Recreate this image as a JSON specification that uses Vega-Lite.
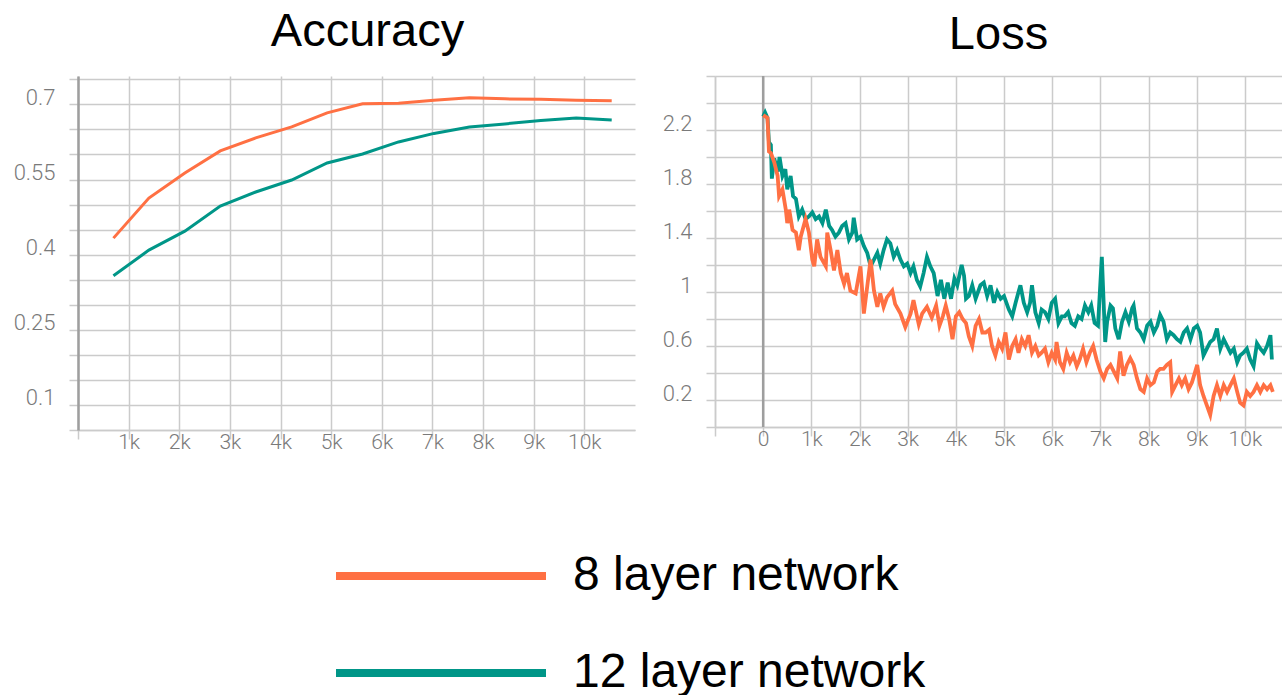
{
  "$schema": "https://vega.github.io/schema/vega-lite/v6.json",
  "background": "white",
  "padding": {"left": 13, "top": 8, "right": 0, "bottom": 0},
  "autosize": {"type": "pad"},
  "spacing": 80,
  "bounds": "flush",
  "datasets": {
    "acc": [
      {"step": 700, "series": "8 layer network", "acc": 0.433},
      {"step": 1400, "series": "8 layer network", "acc": 0.513},
      {"step": 2110, "series": "8 layer network", "acc": 0.563},
      {"step": 2810, "series": "8 layer network", "acc": 0.607},
      {"step": 3510, "series": "8 layer network", "acc": 0.633},
      {"step": 4220, "series": "8 layer network", "acc": 0.655},
      {"step": 4920, "series": "8 layer network", "acc": 0.683},
      {"step": 5620, "series": "8 layer network", "acc": 0.701},
      {"step": 6330, "series": "8 layer network", "acc": 0.702},
      {"step": 7030, "series": "8 layer network", "acc": 0.708},
      {"step": 7730, "series": "8 layer network", "acc": 0.713},
      {"step": 8430, "series": "8 layer network", "acc": 0.711},
      {"step": 9140, "series": "8 layer network", "acc": 0.710},
      {"step": 9840, "series": "8 layer network", "acc": 0.708},
      {"step": 10540, "series": "8 layer network", "acc": 0.707},
      {"step": 700, "series": "12 layer network", "acc": 0.358},
      {"step": 1400, "series": "12 layer network", "acc": 0.409},
      {"step": 2110, "series": "12 layer network", "acc": 0.447},
      {"step": 2810, "series": "12 layer network", "acc": 0.497},
      {"step": 3510, "series": "12 layer network", "acc": 0.525},
      {"step": 4220, "series": "12 layer network", "acc": 0.549},
      {"step": 4920, "series": "12 layer network", "acc": 0.583},
      {"step": 5620, "series": "12 layer network", "acc": 0.601},
      {"step": 6330, "series": "12 layer network", "acc": 0.625},
      {"step": 7030, "series": "12 layer network", "acc": 0.642},
      {"step": 7730, "series": "12 layer network", "acc": 0.655},
      {"step": 8430, "series": "12 layer network", "acc": 0.661},
      {"step": 9140, "series": "12 layer network", "acc": 0.668},
      {"step": 9840, "series": "12 layer network", "acc": 0.673},
      {"step": 10540, "series": "12 layer network", "acc": 0.669}
    ],
    "loss": [
      {"step": 0, "series": "12 layer network", "loss": 2.30},
      {"step": 40, "series": "12 layer network", "loss": 2.33},
      {"step": 90, "series": "12 layer network", "loss": 2.29},
      {"step": 120, "series": "12 layer network", "loss": 2.11},
      {"step": 160, "series": "12 layer network", "loss": 2.09},
      {"step": 180, "series": "12 layer network", "loss": 1.84},
      {"step": 230, "series": "12 layer network", "loss": 1.99},
      {"step": 300, "series": "12 layer network", "loss": 1.89},
      {"step": 340, "series": "12 layer network", "loss": 2.00},
      {"step": 400, "series": "12 layer network", "loss": 1.86},
      {"step": 460, "series": "12 layer network", "loss": 1.91},
      {"step": 500, "series": "12 layer network", "loss": 1.76},
      {"step": 570, "series": "12 layer network", "loss": 1.86},
      {"step": 620, "series": "12 layer network", "loss": 1.71},
      {"step": 680, "series": "12 layer network", "loss": 1.69},
      {"step": 740, "series": "12 layer network", "loss": 1.56},
      {"step": 810, "series": "12 layer network", "loss": 1.61},
      {"step": 880, "series": "12 layer network", "loss": 1.54},
      {"step": 950, "series": "12 layer network", "loss": 1.56},
      {"step": 1020, "series": "12 layer network", "loss": 1.59},
      {"step": 1090, "series": "12 layer network", "loss": 1.54},
      {"step": 1160, "series": "12 layer network", "loss": 1.56},
      {"step": 1230, "series": "12 layer network", "loss": 1.51},
      {"step": 1300, "series": "12 layer network", "loss": 1.61},
      {"step": 1370, "series": "12 layer network", "loss": 1.49},
      {"step": 1430, "series": "12 layer network", "loss": 1.46},
      {"step": 1500, "series": "12 layer network", "loss": 1.41},
      {"step": 1570, "series": "12 layer network", "loss": 1.44},
      {"step": 1640, "series": "12 layer network", "loss": 1.49},
      {"step": 1710, "series": "12 layer network", "loss": 1.51},
      {"step": 1780, "series": "12 layer network", "loss": 1.39},
      {"step": 1850, "series": "12 layer network", "loss": 1.44},
      {"step": 1880, "series": "12 layer network", "loss": 1.55},
      {"step": 1950, "series": "12 layer network", "loss": 1.39},
      {"step": 2020, "series": "12 layer network", "loss": 1.41},
      {"step": 2090, "series": "12 layer network", "loss": 1.34},
      {"step": 2160, "series": "12 layer network", "loss": 1.29},
      {"step": 2230, "series": "12 layer network", "loss": 1.19},
      {"step": 2300, "series": "12 layer network", "loss": 1.24},
      {"step": 2370, "series": "12 layer network", "loss": 1.29},
      {"step": 2430, "series": "12 layer network", "loss": 1.21},
      {"step": 2500, "series": "12 layer network", "loss": 1.31},
      {"step": 2570, "series": "12 layer network", "loss": 1.39},
      {"step": 2640, "series": "12 layer network", "loss": 1.36},
      {"step": 2710, "series": "12 layer network", "loss": 1.26},
      {"step": 2780, "series": "12 layer network", "loss": 1.31},
      {"step": 2850, "series": "12 layer network", "loss": 1.24},
      {"step": 2920, "series": "12 layer network", "loss": 1.19},
      {"step": 2990, "series": "12 layer network", "loss": 1.21},
      {"step": 3060, "series": "12 layer network", "loss": 1.14},
      {"step": 3120, "series": "12 layer network", "loss": 1.19},
      {"step": 3190, "series": "12 layer network", "loss": 1.09},
      {"step": 3260, "series": "12 layer network", "loss": 1.04},
      {"step": 3330, "series": "12 layer network", "loss": 1.14},
      {"step": 3400, "series": "12 layer network", "loss": 1.26},
      {"step": 3470, "series": "12 layer network", "loss": 1.19},
      {"step": 3540, "series": "12 layer network", "loss": 1.14},
      {"step": 3620, "series": "12 layer network", "loss": 0.97},
      {"step": 3690, "series": "12 layer network", "loss": 1.09},
      {"step": 3760, "series": "12 layer network", "loss": 0.95},
      {"step": 3830, "series": "12 layer network", "loss": 1.07},
      {"step": 3900, "series": "12 layer network", "loss": 0.95},
      {"step": 3970, "series": "12 layer network", "loss": 1.10},
      {"step": 4030, "series": "12 layer network", "loss": 1.05},
      {"step": 4120, "series": "12 layer network", "loss": 1.20},
      {"step": 4170, "series": "12 layer network", "loss": 1.12},
      {"step": 4210, "series": "12 layer network", "loss": 0.95},
      {"step": 4270, "series": "12 layer network", "loss": 0.97},
      {"step": 4340, "series": "12 layer network", "loss": 1.05},
      {"step": 4410, "series": "12 layer network", "loss": 0.95},
      {"step": 4510, "series": "12 layer network", "loss": 1.05},
      {"step": 4580, "series": "12 layer network", "loss": 1.07},
      {"step": 4650, "series": "12 layer network", "loss": 0.97},
      {"step": 4720, "series": "12 layer network", "loss": 1.05},
      {"step": 4790, "series": "12 layer network", "loss": 0.92},
      {"step": 4860, "series": "12 layer network", "loss": 1.00},
      {"step": 4930, "series": "12 layer network", "loss": 0.95},
      {"step": 5000, "series": "12 layer network", "loss": 0.97},
      {"step": 5100, "series": "12 layer network", "loss": 0.87},
      {"step": 5170, "series": "12 layer network", "loss": 0.82},
      {"step": 5240, "series": "12 layer network", "loss": 0.92},
      {"step": 5300, "series": "12 layer network", "loss": 1.00},
      {"step": 5340, "series": "12 layer network", "loss": 1.05},
      {"step": 5410, "series": "12 layer network", "loss": 0.92},
      {"step": 5480, "series": "12 layer network", "loss": 0.85},
      {"step": 5540, "series": "12 layer network", "loss": 0.92},
      {"step": 5580, "series": "12 layer network", "loss": 1.05},
      {"step": 5650, "series": "12 layer network", "loss": 0.85},
      {"step": 5720, "series": "12 layer network", "loss": 0.77},
      {"step": 5780, "series": "12 layer network", "loss": 0.87},
      {"step": 5850, "series": "12 layer network", "loss": 0.85},
      {"step": 5920, "series": "12 layer network", "loss": 0.80},
      {"step": 5990, "series": "12 layer network", "loss": 0.92},
      {"step": 6060, "series": "12 layer network", "loss": 0.95},
      {"step": 6130, "series": "12 layer network", "loss": 0.77},
      {"step": 6200, "series": "12 layer network", "loss": 0.82},
      {"step": 6260, "series": "12 layer network", "loss": 0.82},
      {"step": 6330, "series": "12 layer network", "loss": 0.85},
      {"step": 6400, "series": "12 layer network", "loss": 0.77},
      {"step": 6470, "series": "12 layer network", "loss": 0.75},
      {"step": 6540, "series": "12 layer network", "loss": 0.82},
      {"step": 6610, "series": "12 layer network", "loss": 0.80},
      {"step": 6680, "series": "12 layer network", "loss": 0.90},
      {"step": 6750, "series": "12 layer network", "loss": 0.85},
      {"step": 6810, "series": "12 layer network", "loss": 0.90},
      {"step": 6880, "series": "12 layer network", "loss": 0.77},
      {"step": 6950, "series": "12 layer network", "loss": 0.75},
      {"step": 7030, "series": "12 layer network", "loss": 1.26},
      {"step": 7100, "series": "12 layer network", "loss": 0.63},
      {"step": 7140, "series": "12 layer network", "loss": 0.78},
      {"step": 7210, "series": "12 layer network", "loss": 0.90},
      {"step": 7260, "series": "12 layer network", "loss": 0.88},
      {"step": 7310, "series": "12 layer network", "loss": 0.73},
      {"step": 7380, "series": "12 layer network", "loss": 0.65},
      {"step": 7450, "series": "12 layer network", "loss": 0.78},
      {"step": 7520, "series": "12 layer network", "loss": 0.85},
      {"step": 7590, "series": "12 layer network", "loss": 0.78},
      {"step": 7660, "series": "12 layer network", "loss": 0.88},
      {"step": 7690, "series": "12 layer network", "loss": 0.90},
      {"step": 7760, "series": "12 layer network", "loss": 0.73},
      {"step": 7830, "series": "12 layer network", "loss": 0.70},
      {"step": 7900, "series": "12 layer network", "loss": 0.65},
      {"step": 7970, "series": "12 layer network", "loss": 0.75},
      {"step": 8040, "series": "12 layer network", "loss": 0.78},
      {"step": 8110, "series": "12 layer network", "loss": 0.70},
      {"step": 8180, "series": "12 layer network", "loss": 0.75},
      {"step": 8240, "series": "12 layer network", "loss": 0.83},
      {"step": 8310, "series": "12 layer network", "loss": 0.78},
      {"step": 8380, "series": "12 layer network", "loss": 0.65},
      {"step": 8450, "series": "12 layer network", "loss": 0.70},
      {"step": 8520, "series": "12 layer network", "loss": 0.68},
      {"step": 8590, "series": "12 layer network", "loss": 0.65},
      {"step": 8660, "series": "12 layer network", "loss": 0.63},
      {"step": 8730, "series": "12 layer network", "loss": 0.70},
      {"step": 8800, "series": "12 layer network", "loss": 0.73},
      {"step": 8870, "series": "12 layer network", "loss": 0.65},
      {"step": 8940, "series": "12 layer network", "loss": 0.73},
      {"step": 9010, "series": "12 layer network", "loss": 0.75},
      {"step": 9070, "series": "12 layer network", "loss": 0.70},
      {"step": 9140, "series": "12 layer network", "loss": 0.53},
      {"step": 9210, "series": "12 layer network", "loss": 0.58},
      {"step": 9280, "series": "12 layer network", "loss": 0.63},
      {"step": 9350, "series": "12 layer network", "loss": 0.65},
      {"step": 9420, "series": "12 layer network", "loss": 0.73},
      {"step": 9490, "series": "12 layer network", "loss": 0.58},
      {"step": 9560, "series": "12 layer network", "loss": 0.65},
      {"step": 9630, "series": "12 layer network", "loss": 0.60},
      {"step": 9700, "series": "12 layer network", "loss": 0.55},
      {"step": 9770, "series": "12 layer network", "loss": 0.58},
      {"step": 9840, "series": "12 layer network", "loss": 0.48},
      {"step": 9900, "series": "12 layer network", "loss": 0.53},
      {"step": 9970, "series": "12 layer network", "loss": 0.55},
      {"step": 10040, "series": "12 layer network", "loss": 0.58},
      {"step": 10110, "series": "12 layer network", "loss": 0.50},
      {"step": 10180, "series": "12 layer network", "loss": 0.45},
      {"step": 10250, "series": "12 layer network", "loss": 0.62},
      {"step": 10320, "series": "12 layer network", "loss": 0.58},
      {"step": 10390, "series": "12 layer network", "loss": 0.55},
      {"step": 10460, "series": "12 layer network", "loss": 0.60},
      {"step": 10530, "series": "12 layer network", "loss": 0.68},
      {"step": 10560, "series": "12 layer network", "loss": 0.50},
      {"step": 0, "series": "8 layer network", "loss": 2.31},
      {"step": 90, "series": "8 layer network", "loss": 2.29},
      {"step": 120, "series": "8 layer network", "loss": 2.04},
      {"step": 160, "series": "8 layer network", "loss": 2.03},
      {"step": 230, "series": "8 layer network", "loss": 1.96},
      {"step": 300, "series": "8 layer network", "loss": 1.86},
      {"step": 330, "series": "8 layer network", "loss": 1.71},
      {"step": 400, "series": "8 layer network", "loss": 1.76},
      {"step": 470, "series": "8 layer network", "loss": 1.61},
      {"step": 500, "series": "8 layer network", "loss": 1.51},
      {"step": 540, "series": "8 layer network", "loss": 1.61},
      {"step": 610, "series": "8 layer network", "loss": 1.46},
      {"step": 680, "series": "8 layer network", "loss": 1.44},
      {"step": 740, "series": "8 layer network", "loss": 1.31},
      {"step": 780, "series": "8 layer network", "loss": 1.41},
      {"step": 880, "series": "8 layer network", "loss": 1.54},
      {"step": 950, "series": "8 layer network", "loss": 1.44},
      {"step": 1020, "series": "8 layer network", "loss": 1.24},
      {"step": 1060, "series": "8 layer network", "loss": 1.19},
      {"step": 1120, "series": "8 layer network", "loss": 1.39},
      {"step": 1190, "series": "8 layer network", "loss": 1.26},
      {"step": 1300, "series": "8 layer network", "loss": 1.19},
      {"step": 1330, "series": "8 layer network", "loss": 1.44},
      {"step": 1400, "series": "8 layer network", "loss": 1.31},
      {"step": 1470, "series": "8 layer network", "loss": 1.16},
      {"step": 1540, "series": "8 layer network", "loss": 1.31},
      {"step": 1610, "series": "8 layer network", "loss": 1.14},
      {"step": 1680, "series": "8 layer network", "loss": 1.06},
      {"step": 1740, "series": "8 layer network", "loss": 1.14},
      {"step": 1810, "series": "8 layer network", "loss": 1.01},
      {"step": 1920, "series": "8 layer network", "loss": 0.99},
      {"step": 2020, "series": "8 layer network", "loss": 1.19},
      {"step": 2090, "series": "8 layer network", "loss": 0.84},
      {"step": 2160, "series": "8 layer network", "loss": 1.04},
      {"step": 2230, "series": "8 layer network", "loss": 1.24},
      {"step": 2300, "series": "8 layer network", "loss": 1.01},
      {"step": 2370, "series": "8 layer network", "loss": 0.89},
      {"step": 2430, "series": "8 layer network", "loss": 0.99},
      {"step": 2500, "series": "8 layer network", "loss": 0.89},
      {"step": 2570, "series": "8 layer network", "loss": 0.96},
      {"step": 2680, "series": "8 layer network", "loss": 1.01},
      {"step": 2740, "series": "8 layer network", "loss": 0.91},
      {"step": 2850, "series": "8 layer network", "loss": 0.84},
      {"step": 2950, "series": "8 layer network", "loss": 0.74},
      {"step": 3060, "series": "8 layer network", "loss": 0.84},
      {"step": 3120, "series": "8 layer network", "loss": 0.94},
      {"step": 3230, "series": "8 layer network", "loss": 0.76},
      {"step": 3300, "series": "8 layer network", "loss": 0.84},
      {"step": 3400, "series": "8 layer network", "loss": 0.89},
      {"step": 3500, "series": "8 layer network", "loss": 0.81},
      {"step": 3590, "series": "8 layer network", "loss": 0.90},
      {"step": 3660, "series": "8 layer network", "loss": 0.75},
      {"step": 3730, "series": "8 layer network", "loss": 0.82},
      {"step": 3790, "series": "8 layer network", "loss": 0.90},
      {"step": 3860, "series": "8 layer network", "loss": 0.80},
      {"step": 3930, "series": "8 layer network", "loss": 0.65},
      {"step": 4000, "series": "8 layer network", "loss": 0.82},
      {"step": 4070, "series": "8 layer network", "loss": 0.85},
      {"step": 4140, "series": "8 layer network", "loss": 0.80},
      {"step": 4210, "series": "8 layer network", "loss": 0.77},
      {"step": 4270, "series": "8 layer network", "loss": 0.67},
      {"step": 4340, "series": "8 layer network", "loss": 0.60},
      {"step": 4410, "series": "8 layer network", "loss": 0.75},
      {"step": 4480, "series": "8 layer network", "loss": 0.80},
      {"step": 4550, "series": "8 layer network", "loss": 0.70},
      {"step": 4620, "series": "8 layer network", "loss": 0.70},
      {"step": 4690, "series": "8 layer network", "loss": 0.72},
      {"step": 4750, "series": "8 layer network", "loss": 0.60},
      {"step": 4820, "series": "8 layer network", "loss": 0.53},
      {"step": 4890, "series": "8 layer network", "loss": 0.63},
      {"step": 4960, "series": "8 layer network", "loss": 0.58},
      {"step": 5030, "series": "8 layer network", "loss": 0.70},
      {"step": 5100, "series": "8 layer network", "loss": 0.50},
      {"step": 5170, "series": "8 layer network", "loss": 0.60},
      {"step": 5240, "series": "8 layer network", "loss": 0.65},
      {"step": 5300, "series": "8 layer network", "loss": 0.55},
      {"step": 5370, "series": "8 layer network", "loss": 0.65},
      {"step": 5440, "series": "8 layer network", "loss": 0.60},
      {"step": 5510, "series": "8 layer network", "loss": 0.68},
      {"step": 5580, "series": "8 layer network", "loss": 0.55},
      {"step": 5650, "series": "8 layer network", "loss": 0.60},
      {"step": 5720, "series": "8 layer network", "loss": 0.53},
      {"step": 5780, "series": "8 layer network", "loss": 0.55},
      {"step": 5850, "series": "8 layer network", "loss": 0.58},
      {"step": 5920, "series": "8 layer network", "loss": 0.48},
      {"step": 5990, "series": "8 layer network", "loss": 0.55},
      {"step": 6060, "series": "8 layer network", "loss": 0.50},
      {"step": 6090, "series": "8 layer network", "loss": 0.63},
      {"step": 6160, "series": "8 layer network", "loss": 0.48},
      {"step": 6230, "series": "8 layer network", "loss": 0.43},
      {"step": 6300, "series": "8 layer network", "loss": 0.55},
      {"step": 6370, "series": "8 layer network", "loss": 0.48},
      {"step": 6440, "series": "8 layer network", "loss": 0.53},
      {"step": 6510, "series": "8 layer network", "loss": 0.45},
      {"step": 6570, "series": "8 layer network", "loss": 0.50},
      {"step": 6640, "series": "8 layer network", "loss": 0.58},
      {"step": 6710, "series": "8 layer network", "loss": 0.48},
      {"step": 6780, "series": "8 layer network", "loss": 0.55},
      {"step": 6850, "series": "8 layer network", "loss": 0.60},
      {"step": 6920, "series": "8 layer network", "loss": 0.50},
      {"step": 7000, "series": "8 layer network", "loss": 0.41},
      {"step": 7070, "series": "8 layer network", "loss": 0.36},
      {"step": 7140, "series": "8 layer network", "loss": 0.43},
      {"step": 7210, "series": "8 layer network", "loss": 0.46},
      {"step": 7280, "series": "8 layer network", "loss": 0.41},
      {"step": 7350, "series": "8 layer network", "loss": 0.36},
      {"step": 7410, "series": "8 layer network", "loss": 0.56},
      {"step": 7480, "series": "8 layer network", "loss": 0.38},
      {"step": 7550, "series": "8 layer network", "loss": 0.46},
      {"step": 7620, "series": "8 layer network", "loss": 0.51},
      {"step": 7690, "series": "8 layer network", "loss": 0.46},
      {"step": 7760, "series": "8 layer network", "loss": 0.36},
      {"step": 7830, "series": "8 layer network", "loss": 0.28},
      {"step": 7900, "series": "8 layer network", "loss": 0.26},
      {"step": 7970, "series": "8 layer network", "loss": 0.36},
      {"step": 8040, "series": "8 layer network", "loss": 0.31},
      {"step": 8110, "series": "8 layer network", "loss": 0.33},
      {"step": 8180, "series": "8 layer network", "loss": 0.41},
      {"step": 8240, "series": "8 layer network", "loss": 0.43},
      {"step": 8310, "series": "8 layer network", "loss": 0.43},
      {"step": 8380, "series": "8 layer network", "loss": 0.46},
      {"step": 8450, "series": "8 layer network", "loss": 0.48},
      {"step": 8490, "series": "8 layer network", "loss": 0.26},
      {"step": 8560, "series": "8 layer network", "loss": 0.31},
      {"step": 8630, "series": "8 layer network", "loss": 0.36},
      {"step": 8690, "series": "8 layer network", "loss": 0.31},
      {"step": 8760, "series": "8 layer network", "loss": 0.36},
      {"step": 8830, "series": "8 layer network", "loss": 0.28},
      {"step": 8900, "series": "8 layer network", "loss": 0.33},
      {"step": 9010, "series": "8 layer network", "loss": 0.46},
      {"step": 9070, "series": "8 layer network", "loss": 0.31},
      {"step": 9140, "series": "8 layer network", "loss": 0.23},
      {"step": 9210, "series": "8 layer network", "loss": 0.16},
      {"step": 9280, "series": "8 layer network", "loss": 0.09},
      {"step": 9350, "series": "8 layer network", "loss": 0.23},
      {"step": 9420, "series": "8 layer network", "loss": 0.31},
      {"step": 9490, "series": "8 layer network", "loss": 0.23},
      {"step": 9560, "series": "8 layer network", "loss": 0.31},
      {"step": 9630, "series": "8 layer network", "loss": 0.26},
      {"step": 9700, "series": "8 layer network", "loss": 0.31},
      {"step": 9770, "series": "8 layer network", "loss": 0.36},
      {"step": 9840, "series": "8 layer network", "loss": 0.26},
      {"step": 9900, "series": "8 layer network", "loss": 0.18},
      {"step": 9970, "series": "8 layer network", "loss": 0.16},
      {"step": 10040, "series": "8 layer network", "loss": 0.26},
      {"step": 10110, "series": "8 layer network", "loss": 0.23},
      {"step": 10180, "series": "8 layer network", "loss": 0.26},
      {"step": 10250, "series": "8 layer network", "loss": 0.31},
      {"step": 10320, "series": "8 layer network", "loss": 0.26},
      {"step": 10390, "series": "8 layer network", "loss": 0.31},
      {"step": 10460, "series": "8 layer network", "loss": 0.28},
      {"step": 10530, "series": "8 layer network", "loss": 0.31},
      {"step": 10580, "series": "8 layer network", "loss": 0.26}
    ],
    "zero": [{"step": 0}]
  },
  "hconcat": [
    {
      "width": 557,
      "height": 354,
      "title": {"text": "Accuracy", "dx": 11},
      "data": {"name": "acc"},
      "mark": {"type": "line", "strokeWidth": 3},
      "encoding": {
        "x": {
          "field": "step", "type": "quantitative",
          "scale": {"domain": [0, 11000], "nice": false, "zero": false},
          "axis": {
            "title": null,
            "values": [0, 1000, 2000, 3000, 4000, 5000, 6000, 7000, 8000, 9000, 10000],
            "format": "~s",
            "labelExpr": "datum.value == 0 ? '' : datum.label"
          }
        },
        "y": {
          "field": "acc", "type": "quantitative",
          "scale": {"domain": [0.05, 0.7566], "nice": false, "zero": false},
          "axis": {
            "title": null,
            "values": [0.05, 0.1, 0.15, 0.2, 0.25, 0.3, 0.35, 0.4, 0.45, 0.5, 0.55, 0.6, 0.65, 0.7, 0.75],
            "format": "~g",
            "labelExpr": "indexof([0.1, 0.25, 0.4, 0.55, 0.7], datum.value) >= 0 ? datum.label : ''",
            "domainColor": "#9e9e9e",
            "domainWidth": 2.5
          }
        },
        "color": {
          "field": "series", "type": "nominal",
          "scale": {"domain": ["8 layer network", "12 layer network"], "range": ["#FF7043", "#009688"]},
          "legend": {
            "title": null,
            "encode": {
              "symbols": {"update": {"stroke": {"signal": "datum.value === '8 layer network' ? '#F47160' : '#00979A'"}}}
            }
          }
        }
      }
    },
    {
      "width": 567,
      "height": 351,
      "title": {"text": "Loss", "dy": 6},
      "layer": [
        {
          "data": {"name": "zero"},
          "mark": {"type": "rule", "color": "#9e9e9e", "strokeWidth": 2.5},
          "encoding": {
            "x": {"field": "step", "type": "quantitative"}
          }
        },
        {
          "data": {"name": "loss"},
          "mark": {"type": "line", "strokeWidth": 3.8},
          "encoding": {
            "x": {
              "field": "step", "type": "quantitative",
              "scale": {"domain": [-1000, 10770], "nice": false, "zero": false},
              "axis": {
                "title": null,
                "values": [-1000, 0, 1000, 2000, 3000, 4000, 5000, 6000, 7000, 8000, 9000, 10000],
                "format": "~s",
                "labelExpr": "datum.value < 0 ? '' : (datum.value == 0 ? '0' : datum.label)"
              }
            },
            "y": {
              "field": "loss", "type": "quantitative",
              "scale": {"domain": [0, 2.6], "nice": false, "zero": false},
              "axis": {
                "title": null,
                "values": [0, 0.2, 0.4, 0.6, 0.8, 1, 1.2, 1.4, 1.6, 1.8, 2, 2.2, 2.4, 2.6],
                "format": "~g",
                "labelExpr": "indexof([0.2, 0.6, 1, 1.4, 1.8, 2.2], datum.value) >= 0 ? datum.label : ''"
              }
            },
            "color": {"field": "series", "type": "nominal"}
          }
        }
      ]
    }
  ],
  "config": {
    "view": {"stroke": null},
    "axis": {
      "grid": true,
      "gridColor": "#cbcbcb",
      "gridWidth": 1.5,
      "tickColor": "#cbcbcb",
      "tickWidth": 1.5,
      "tickSize": 9,
      "domainColor": "#cbcbcb",
      "domainWidth": 1.5,
      "labelFont": "Roboto",
      "labelFontWeight": 300,
      "labelColor": "#7a7a7a",
      "labelOverlap": false,
      "labelFlush": false
    },
    "axisX": {"labelFontSize": 21, "labelPadding": -8, "labelBaseline": "top"},
    "axisY": {"labelFontSize": 22, "labelPadding": 14, "labelBaseline": "alphabetic"},
    "title": {
      "font": "Liberation Sans",
      "fontSize": 47,
      "fontWeight": "normal",
      "color": "black",
      "baseline": "alphabetic",
      "offset": 5,
      "anchor": "middle",
      "frame": "group"
    },
    "legend": {
      "orient": "none",
      "legendX": 339,
      "legendY": 476,
      "direction": "vertical",
      "symbolType": "M-10,0H10",
      "symbolSize": 441,
      "symbolStrokeWidth": 8,
      "labelFont": "Liberation Sans",
      "labelFontSize": 48,
      "labelColor": "black",
      "labelOffset": 108,
      "labelLimit": 0,
      "rowPadding": 49
    }
  }
}
